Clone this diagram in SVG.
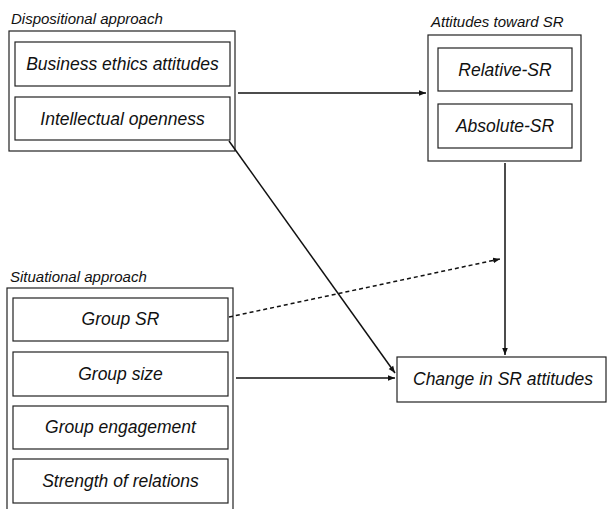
<svg xmlns="http://www.w3.org/2000/svg" width="607" height="509" viewBox="0 0 607 509">
<style>
rect{fill:#fff;stroke:#222;stroke-width:1.2}
text{font-family:"Liberation Sans",Arial,sans-serif;font-style:italic;fill:#111}
.t{font-size:17.5px;text-anchor:middle}
.h{font-size:15px}
.c{stroke:#111;stroke-width:1.5;fill:none}
</style>
<defs>
<marker id="ah" viewBox="0 0 10 10" refX="10" refY="5" markerWidth="7" markerHeight="7" orient="auto" markerUnits="userSpaceOnUse">
<path d="M0,1 L10,5 L0,9 Z" fill="#111"/>
</marker>
</defs>
<rect width="607" height="509" style="stroke:none"/>
<g id="dispositional">
<text class="h" x="11" y="24">Dispositional approach</text>
<rect x="9" y="31" width="226" height="120"/>
<g id="business-ethics"><rect x="15" y="42" width="215" height="44"/><text class="t" x="122.5" y="70">Business ethics attitudes</text></g>
<g id="intellectual-openness"><rect x="15" y="97" width="215" height="43"/><text class="t" x="122.5" y="125">Intellectual openness</text></g>
</g>
<g id="attitudes">
<text class="h" x="431" y="27">Attitudes toward SR</text>
<rect x="428" y="35" width="153" height="126"/>
<g id="relative-sr"><rect x="438" y="48" width="134" height="43"/><text class="t" x="505" y="76">Relative-SR</text></g>
<g id="absolute-sr"><rect x="438" y="104" width="134" height="44"/><text class="t" x="505" y="132">Absolute-SR</text></g>
</g>
<g id="situational">
<text class="h" x="10" y="282">Situational approach</text>
<rect x="7" y="288" width="226" height="230"/>
<g id="group-sr"><rect x="13" y="298" width="215" height="43"/><text class="t" x="120.5" y="325">Group SR</text></g>
<g id="group-size"><rect x="13" y="352" width="215" height="44"/><text class="t" x="120.5" y="380">Group size</text></g>
<g id="group-engagement"><rect x="13" y="406" width="215" height="43"/><text class="t" x="120.5" y="433">Group engagement</text></g>
<g id="strength-relations"><rect x="13" y="459" width="215" height="44"/><text class="t" x="120.5" y="487">Strength of relations</text></g>
</g>
<g id="change">
<rect x="397" y="357" width="209" height="45"/><text class="t" x="503" y="385">Change in SR attitudes</text>
</g>
<g id="connectors">
<line class="c" x1="238" y1="93" x2="426" y2="93" marker-end="url(#ah)"/>
<line class="c" x1="505" y1="163" x2="505" y2="355" marker-end="url(#ah)"/>
<line class="c" x1="229" y1="141" x2="395" y2="373" marker-end="url(#ah)"/>
<line class="c" x1="236" y1="378" x2="395" y2="378" marker-end="url(#ah)"/>
<line class="c" x1="229" y1="317" x2="500" y2="259" stroke-dasharray="4,3" marker-end="url(#ah)"/>
</g>
</svg>
